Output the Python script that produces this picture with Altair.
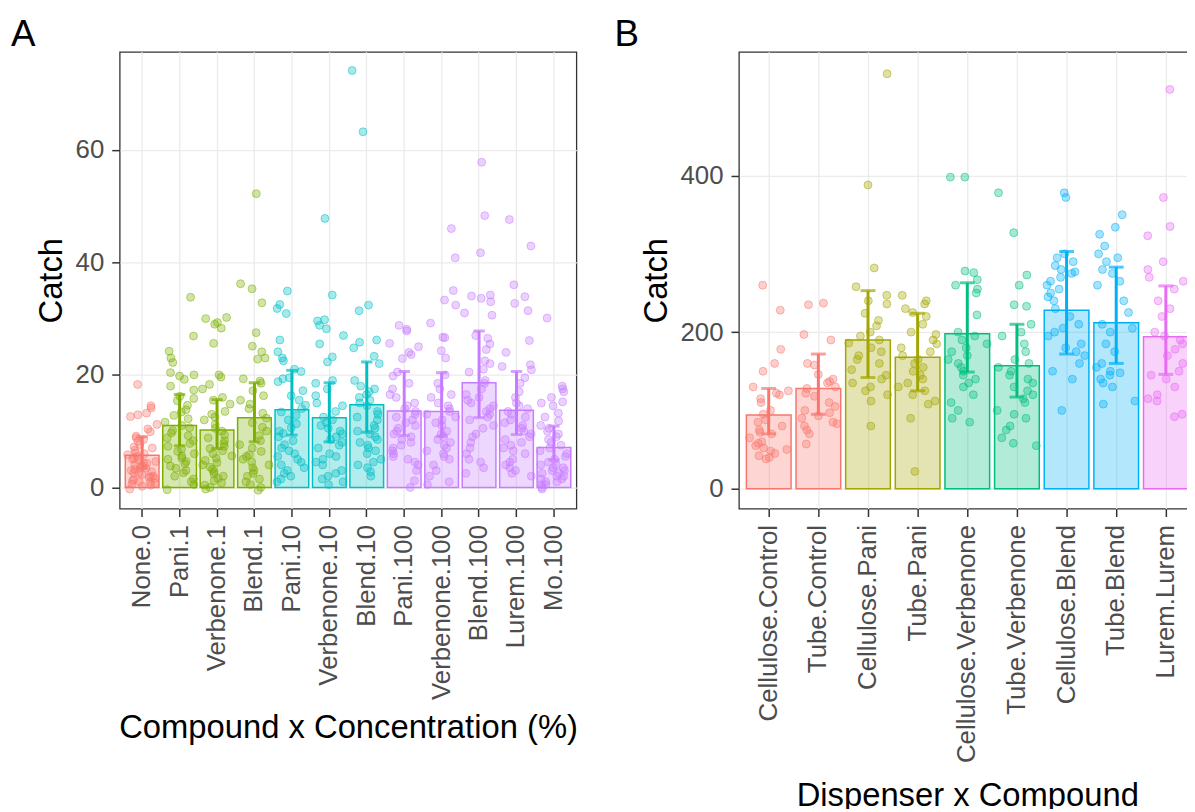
import altair as alt
import pandas as pd

# ---------------- Panel A data ----------------
a_cats = ["None.0", "Pani.1", "Verbenone.1", "Blend.1", "Pani.10", "Verbenone.10",
          "Blend.10", "Pani.100", "Verbenone.100", "Blend.100", "Lurem.100", "Mo.100"]
a_conc = ["0", "1", "1", "1", "10", "10", "10", "100", "100", "100", "100", "100"]
a_mean = [5.7, 11.0, 10.2, 12.4, 13.8, 12.4, 14.7, 13.6, 13.5, 18.6, 13.7, 7.1]
a_lo = [3.4, 7.4, 6.9, 8.1, 9.3, 8.1, 9.8, 9.2, 9.1, 12.4, 9.4, 4.9]
a_hi = [9.0, 16.5, 15.6, 18.6, 20.8, 18.6, 22.3, 20.6, 20.4, 27.8, 20.6, 10.9]

pts_none_0 = [18.3, 14.5, 14.1, 13.2, 12.9, 12.6, 11.2, 10.4, 9.9, 9.1, 8.8, 8.5, 8.2, 7.6, 7.2, 7.0, 6.6,
              6.1, 6.0, 5.8, 5.5, 5.2, 5.0, 4.9, 4.6, 4.4, 4.3, 4.0, 3.8, 3.5, 3.4, 3.2, 3.0, 2.8, 2.6,
              2.5, 2.3, 2.0, 1.9, 1.8, 1.6, 1.4, 1.2, 1.0, 0.9, 0.8, 0.6, 0.4, 0.2, -0.3]
pts_pani_1 = [33.8, 26.9, 24.2, 23.0, 22.2, 20.4, 20.0, 19.8, 19.2, 18.0, 17.3, 16.2, 15.8, 15.4, 14.6,
              13.8, 13.4, 12.8, 12.2, 11.6, 11.0, 10.6, 10.1, 9.7, 9.2, 8.8, 8.3, 7.8, 7.3, 6.8, 6.4,
              6.0, 5.6, 5.2, 5.0, 4.6, 4.2, 3.8, 3.4, 3.0, 2.6, 2.0, 1.5, 1.0, 0.5, -0.4]
pts_verbenone_1 = [30.2, 30.0, 29.3, 29.0, 28.3, 25.6, 20.0, 19.6, 18.3, 17.5, 16.0, 15.5, 14.8, 13.5,
                   13.0, 12.5, 12.0, 11.2, 10.5, 10.0, 9.3, 8.8, 8.3, 7.8, 7.3, 6.9, 6.5, 6.0, 5.6, 5.2,
                   4.8, 4.4, 4.0, 3.6, 3.2, 2.8, 2.4, 2.0, 1.6, 1.2, 0.8, 0.4, 0.0, -0.3]
pts_blend_1 = [52.2, 36.2, 35.3, 32.8, 27.5, 25.1, 24.1, 23.0, 22.8, 19.3, 18.9, 18.5, 17.2, 16.3, 15.5,
               14.8, 14.0, 13.2, 12.3, 11.5, 10.7, 10.0, 9.2, 8.3, 7.6, 7.0, 6.4, 5.8, 5.5, 5.0, 4.5,
               4.0, 3.5, 3.0, 2.5, 2.0, 1.5, 1.0, 0.5, 0.0, -0.5]
pts_pani_10 = [34.9, 32.5, 31.8, 30.9, 26.2, 24.1, 23.0, 22.5, 21.0, 20.6, 19.5, 19.3, 18.8, 17.2, 16.3,
               15.5, 14.6, 14.0, 13.4, 12.8, 12.0, 11.3, 10.6, 10.0, 9.6, 9.0, 8.3, 7.6, 7.0, 6.5, 6.0,
               5.5, 5.0, 4.5, 4.0, 3.5, 3.0, 2.5, 2.0, 1.5, 1.0]
pts_verbenone_10 = [47.8, 34.2, 29.8, 29.6, 28.8, 28.2, 27.0, 25.5, 23.2, 22.3, 19.0, 18.5, 17.5, 16.3,
                    15.0, 14.5, 13.5, 12.5, 12.0, 11.5, 11.0, 10.5, 10.0, 9.5, 9.0, 8.5, 8.0, 7.5, 7.0,
                    6.0, 5.5, 5.0, 4.5, 4.0, 3.0, 2.5, 2.0, 1.5, 1.0, 0.5]
pts_blend_10 = [74.1, 63.2, 32.4, 31.4, 26.2, 25.8, 24.8, 23.3, 22.0, 19.0, 18.0, 17.5, 17.0, 16.5, 16.0,
                15.5, 15.0, 14.5, 13.5, 13.0, 12.5, 12.0, 11.0, 10.5, 10.0, 9.5, 9.0, 8.5, 8.0, 7.5,
                7.0, 6.5, 6.0, 5.0, 4.5, 4.0, 3.5, 2.8, 2.0]
pts_pani_100 = [28.8, 28.1, 27.8, 25.6, 25.0, 24.0, 23.6, 22.9, 20.5, 19.8, 18.5, 17.5, 16.5, 16.0, 15.0,
                14.5, 14.0, 13.5, 13.0, 12.5, 12.0, 11.5, 11.0, 10.5, 10.0, 9.5, 9.0, 8.5, 8.0, 7.5,
                7.0, 6.5, 6.0, 5.5, 5.0, 4.5, 4.0, 3.0, 1.2, 0.0]
pts_verbenone_100 = [46.0, 40.8, 35.0, 33.3, 32.4, 29.2, 26.7, 26.6, 24.3, 23.0, 20.0, 18.5, 17.5, 16.5,
                     16.0, 15.0, 14.5, 14.0, 13.5, 13.0, 12.5, 12.0, 11.5, 11.0, 10.0, 9.5, 9.0, 8.5,
                     8.0, 7.5, 7.0, 6.5, 6.0, 5.5, 5.0, 4.0, 3.0, 2.0, 1.0, 0.5]
pts_blend_100 = [57.8, 48.3, 41.7, 34.2, 34.0, 33.6, 33.0, 31.0, 30.6, 27.0, 26.5, 25.5, 24.5, 22.5,
                 22.0, 21.0, 20.5, 19.0, 18.5, 17.5, 16.5, 16.0, 15.5, 15.0, 14.5, 14.0, 13.5, 13.0,
                 12.5, 12.0, 11.0, 10.5, 9.5, 9.0, 8.0, 7.0, 6.0, 5.0, 4.5, 3.5, 2.5]
pts_lurem_100 = [47.6, 42.9, 36.0, 33.9, 32.7, 31.4, 26.1, 24.0, 21.8, 21.5, 20.9, 19.5, 18.5, 17.0,
                 16.0, 15.0, 14.5, 14.0, 13.5, 13.0, 12.5, 12.0, 11.5, 11.0, 10.5, 10.0, 9.5, 9.0,
                 8.5, 8.0, 7.5, 7.0, 6.5, 6.0, 5.0, 4.5, 4.0, 3.5, 3.0, 2.5, 2.0]
pts_mo_100 = [30.1, 18.0, 17.5, 17.0, 16.0, 15.2, 15.0, 14.5, 13.2, 12.5, 11.8, 11.0, 10.5, 10.0, 9.5,
              9.0, 8.5, 8.0, 7.5, 7.0, 6.5, 6.0, 5.5, 5.0, 4.5, 4.0, 4.0, 3.5, 3.5, 3.0, 3.0, 2.5,
              2.5, 2.0, 2.0, 1.5, 1.5, 1.0, 1.0, 0.5, 0.5, 0.0, -0.3]
a_points = [pts_none_0, pts_pani_1, pts_verbenone_1, pts_blend_1, pts_pani_10, pts_verbenone_10,
            pts_blend_10, pts_pani_100, pts_verbenone_100, pts_blend_100, pts_lurem_100, pts_mo_100]

a_groups = ["0", "1", "10", "100"]
a_colors = ["#F8766D", "#7CAE00", "#00BFC4", "#C77CFF"]

# ---------------- Panel B data ----------------
b_cats = ["Cellulose.Control", "Tube.Control", "Cellulose.Pani", "Tube.Pani", "Cellulose.Verbenone",
          "Tube.Verbenone", "Cellulose.Blend", "Tube.Blend", "Lurem.Lurem"]
b_comp = ["Control", "Control", "Pani", "Pani", "Verbenone", "Verbenone", "Blend", "Blend", "Lurem"]
b_mean = [94, 128, 190, 168, 198, 157, 228, 212, 194]
b_lo = [70, 95, 142, 125, 149, 117, 172, 160, 146]
b_hi = [128, 172, 253, 224, 263, 210, 303, 283, 259]

pts_cel_control = [260, 228, 178, 160, 150, 130, 125, 122, 120, 115, 110, 100, 95, 88, 85, 80, 75, 72,
                   70, 65, 60, 58, 55, 52, 50, 48, 45, 42, 40, 38]
pts_tube_control = [237, 235, 197, 190, 160, 158, 146, 140, 137, 135, 130, 128, 122, 118, 110, 105,
                    100, 97, 93, 90, 85, 83, 80, 75, 70, 57]
pts_cel_pani = [530, 388, 282, 258, 247, 240, 236, 224, 215, 208, 200, 195, 190, 186, 180, 175, 170,
                165, 160, 152, 145, 140, 135, 130, 125, 120, 112, 80]
pts_tube_pani = [247, 240, 236, 230, 225, 220, 210, 200, 197, 190, 185, 180, 175, 170, 165, 160, 155,
                 150, 145, 140, 135, 130, 125, 120, 112, 108, 90, 22]
pts_cel_verb = [398, 398, 278, 276, 267, 260, 255, 250, 222, 200, 195, 190, 185, 180, 175, 170, 165,
                160, 155, 150, 145, 140, 135, 130, 120, 110, 100, 90, 85]
pts_tube_verb = [378, 327, 273, 260, 235, 233, 210, 200, 195, 185, 175, 165, 160, 155, 150, 145, 140,
                 135, 130, 125, 120, 115, 110, 100, 95, 90, 80, 75, 65, 58, 55]
pts_cel_blend = [378, 372, 300, 295, 290, 285, 280, 277, 275, 270, 265, 260, 255, 250, 245, 240, 230,
                 220, 210, 205, 200, 195, 185, 180, 175, 170, 160, 150, 140, 100]
pts_tube_blend = [350, 334, 325, 310, 300, 295, 290, 280, 275, 265, 260, 240, 225, 210, 205, 200, 185,
                  175, 160, 155, 150, 148, 145, 140, 135, 130, 112, 108]
pts_lurem = [510, 372, 335, 323, 290, 280, 270, 265, 255, 240, 230, 220, 200, 195, 190, 185, 178, 170,
             160, 150, 145, 140, 130, 120, 115, 112, 95, 92]
b_points = [pts_cel_control, pts_tube_control, pts_cel_pani, pts_tube_pani, pts_cel_verb,
            pts_tube_verb, pts_cel_blend, pts_tube_blend, pts_lurem]

b_groups = ["Control", "Pani", "Verbenone", "Blend", "Lurem"]
b_colors = ["#F8766D", "#A3A500", "#00BF7D", "#00B0F6", "#E76BF3"]

FONT = "Liberation Sans"
JIT = ("(sin(datum.rn * 12.9898 + 4.1) * 43758.5453 - "
       "floor(sin(datum.rn * 12.9898 + 4.1) * 43758.5453) - 0.5) * 0.8")


def panel(cats, groups, means, los, his, pts, ydomain, yticks, gdom, grange, xtitle, label,
          cap, label_dx, xtitle_y):
    n = len(cats)
    bars_df = pd.DataFrame({"cat": cats, "grp": groups, "mean": means, "lo": los, "hi": his})
    rows = []
    for i, (c, g, vals) in enumerate(zip(cats, groups, pts)):
        for v in vals:
            rows.append({"cat": c, "grp": g, "idx": i, "val": v})
    pts_df = pd.DataFrame(rows)

    xaxis = alt.Axis(labelAngle=270, labelFontSize=26, labelColor="#4D4D4D", labelPadding=8,
                     labelLimit=400,
                     tickSize=8, tickWidth=1.5, tickColor="#333333", domain=False,
                     grid=True, gridColor="#EBEBEB", gridWidth=1.3,
                     titleFontSize=33, titleFontWeight="normal", titleColor="black",
                     titleBaseline="alphabetic", titleY=xtitle_y)
    yaxis = alt.Axis(values=yticks, labelFontSize=26, labelColor="#4D4D4D", labelPadding=8,
                     tickSize=8, tickWidth=1.5, tickColor="#333333", domain=False,
                     grid=True, gridColor="#EBEBEB", gridWidth=1.3,
                     titleFontSize=33, titleFontWeight="normal", titleColor="black",
                     titlePadding=7)
    xs = alt.Scale(domain=cats, paddingInner=0.1, paddingOuter=0.15)
    ys = alt.Scale(domain=ydomain, nice=False, zero=False)
    cs = alt.Scale(domain=gdom, range=grange)

    def X(show):
        return alt.X("cat:N", sort=cats, scale=xs, axis=xaxis if show else None, title=xtitle)

    def Y(f):
        return alt.Y(f, scale=ys, axis=yaxis, title="Catch")

    bars = alt.Chart(bars_df).mark_bar(fillOpacity=0.3, strokeWidth=1.5).encode(
        x=X(True), y=Y("mean:Q"),
        fill=alt.Fill("grp:N", scale=cs, legend=None),
        stroke=alt.Stroke("grp:N", scale=cs, legend=None),
    )
    points = alt.Chart(pts_df).transform_window(
        rn="row_number()"
    ).transform_calculate(
        jx="datum.idx + " + JIT
    ).mark_point(shape="circle", size=64, fillOpacity=0.35, strokeOpacity=0.5,
                 strokeWidth=1).encode(
        x=alt.X("jx:Q", scale=alt.Scale(domain=[-0.6, n - 0.4], nice=False, zero=False),
                axis=None),
        y=Y("val:Q"),
        fill=alt.Fill("grp:N", scale=cs, legend=None),
        stroke=alt.Stroke("grp:N", scale=cs, legend=None),
    )
    rule = alt.Chart(bars_df).mark_rule(strokeWidth=3).encode(
        x=X(False), y=Y("lo:Q"), y2="hi:Q",
        stroke=alt.Stroke("grp:N", scale=cs, legend=None),
    )
    cap_hi = alt.Chart(bars_df).mark_tick(thickness=3, size=cap, orient="horizontal").encode(
        x=X(False), y=Y("hi:Q"),
        fill=alt.Fill("grp:N", scale=cs, legend=None),
    )
    cap_lo = alt.Chart(bars_df).mark_tick(thickness=3, size=cap, orient="horizontal").encode(
        x=X(False), y=Y("lo:Q"),
        fill=alt.Fill("grp:N", scale=cs, legend=None),
    )
    return alt.layer(bars, points, rule, cap_hi, cap_lo).resolve_scale(x="independent").properties(
        width=460, height=460,
        title=alt.TitleParams(label, anchor="start", frame="group", fontSize=37,
                              fontWeight="normal", color="black", dx=label_dx,
                              baseline="alphabetic", offset=-30.6, font=FONT),
    )


pa = panel(a_cats, a_conc, a_mean, a_lo, a_hi, a_points, [-3.76, 77.4], [0, 20, 40, 60],
           a_groups, a_colors, "Compound x Concentration (%)", "A", 11.5, -109.6, 231)
pb = panel(b_cats, b_comp, b_mean, b_lo, b_hi, b_points, [-25.4, 558], [0, 200, 400],
           b_groups, b_colors, "Dispenser x Compound", "B", 15, -125.4, 299)

chart = alt.hconcat(pa, pb, spacing=34.7).resolve_scale(
    y="independent", fill="independent", stroke="independent"
).properties(
    padding={"left": 1.5, "top": 3.3, "right": -10, "bottom": -7}
).configure(
    font=FONT,
).configure_view(
    stroke="#333333", strokeWidth=1.3
).configure_axis(
    labelFont=FONT, titleFont=FONT
)

chart.save("out.html", embed_options={"renderer": "svg", "actions": False})
